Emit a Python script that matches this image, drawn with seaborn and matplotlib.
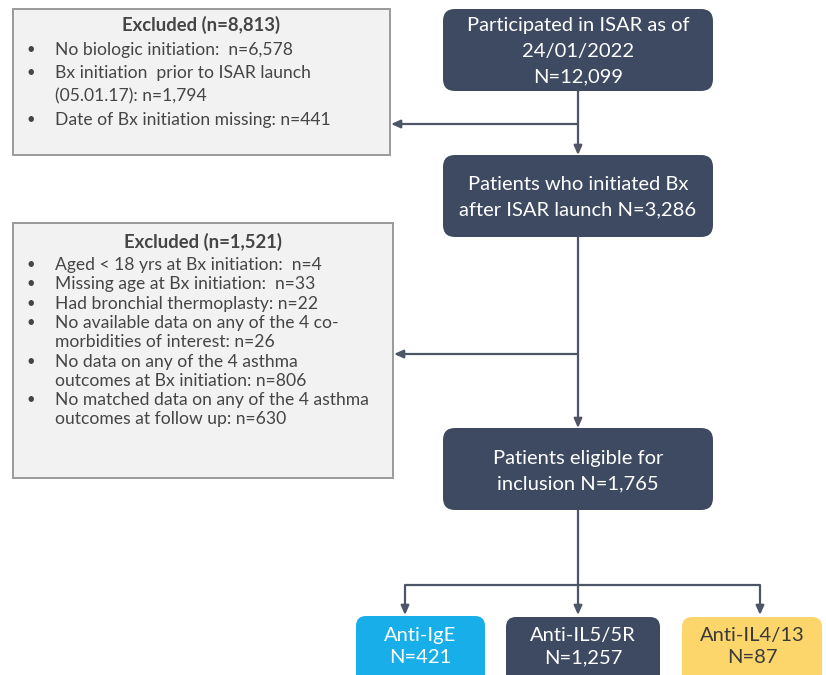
"""ISAR patient selection flowchart (biologic initiation cohort)."""

import matplotlib

matplotlib.use("Agg")
import matplotlib.pyplot as plt
import seaborn as sns
from matplotlib.patches import FancyBboxPatch, Rectangle

# ---- content -------------------------------------------------------------
MAIN_STEPS = [
    "Participated in ISAR as of\n24/01/2022\nN=12,099",
    "Patients who initiated Bx\nafter ISAR launch N=3,286",
    "Patients eligible for\ninclusion N=1,765",
]
EXCLUDED_TITLES = ["Excluded (n=8,813)", "Excluded (n=1,521)"]
EXCLUDED_ITEMS_1 = [
    "No biologic initiation:  n=6,578",
    "Bx initiation  prior to ISAR launch\n(05.01.17): n=1,794",
    "Date of Bx initiation missing: n=441",
]
EXCLUDED_ITEMS_2 = [
    "Aged < 18 yrs at Bx initiation:  n=4",
    "Missing age at Bx initiation:  n=33",
    "Had bronchial thermoplasty: n=22",
    "No available data on any of the 4 co-\nmorbidities of interest: n=26",
    "No data on any of the 4 asthma\noutcomes at Bx initiation: n=806",
    "No matched data on any of the 4 asthma\noutcomes at follow up: n=630",
]
GROUP_NAMES = ["Anti-IgE", "Anti-IL5/5R", "Anti-IL4/13"]
GROUP_COUNTS = ["421", "1,257", "87"]

NAVY = "#3e4a61"
GROUP_COLORS = ["#17aeea", NAVY, "#fcd56b"]
GROUP_TEXT = ["white", "white", "#3a3a3a"]
GREY_FILL = "#f2f2f2"
GREY_EDGE = "#9a9a9a"
LINE = "#4d5566"
TEXT = "#454545"

sns.set_theme(style="white")
plt.rcParams["font.family"] = ["Lato", "DejaVu Sans"]

fig = plt.figure(figsize=(8.26, 6.75), dpi=100)
ax = fig.add_axes([0, 0, 1, 1])
ax.set_xlim(0, 826)
ax.set_ylim(675, 0)
ax.axis("off")


def rounded_box(x0, y0, x1, y1, color, radius=12):
    ax.add_patch(
        FancyBboxPatch(
            (x0 + radius, y0 + radius),
            x1 - x0 - 2 * radius,
            y1 - y0 - 2 * radius,
            boxstyle=f"round,pad={radius}",
            facecolor=color,
            edgecolor="none",
            zorder=2,
        )
    )


def excluded_box(x0, y0, x1, y1, title, items, title_y, first_y, step, size):
    ax.add_patch(
        Rectangle((x0, y0), x1 - x0, y1 - y0, facecolor=GREY_FILL,
                  edgecolor=GREY_EDGE, linewidth=1.4, zorder=2)
    )
    ax.text((x0 + x1) / 2, title_y, title, ha="center", va="center",
            fontsize=size + 0.7, fontweight="bold", color=TEXT, zorder=3)
    y = first_y
    for item in items:
        ax.text(x0 + 18, y, "•", ha="center", va="center", fontsize=size - 2,
                color=TEXT, zorder=3)
        for line in item.split("\n"):
            ax.text(x0 + 42, y, line, ha="left", va="center", fontsize=size,
                    color=TEXT, zorder=3)
            y += step


def arrow(x0, y0, x1, y1):
    ax.annotate("", xy=(x1, y1), xytext=(x0, y0),
                arrowprops=dict(arrowstyle="-|>,head_length=0.45,head_width=0.2",
                                color=LINE, lw=1.6, shrinkA=0, shrinkB=0),
                zorder=1)


def line(xs, ys):
    ax.plot(xs, ys, color=LINE, lw=1.6, solid_capstyle="butt", zorder=1)


# ---- main column ---------------------------------------------------------
CX = 578
main_boxes = [(443, 9, 713, 91), (443, 155, 713, 237), (443, 428, 713, 510)]
main_text_y = [51, 197, 471]
for (x0, y0, x1, y1), label, ty in zip(main_boxes, MAIN_STEPS, main_text_y):
    rounded_box(x0, y0, x1, y1, NAVY)
    ax.text((x0 + x1) / 2, ty, label, ha="center", va="center", fontsize=14.5,
            color="white", linespacing=1.6, zorder=3)

arrow(CX, 91, CX, 155)
arrow(CX, 237, CX, 428)
arrow(CX, 124, 391, 124)
arrow(CX, 354, 394, 354)

# ---- exclusion boxes -----------------------------------------------------
excluded_box(13, 9, 390, 155, EXCLUDED_TITLES[0], EXCLUDED_ITEMS_1,
             title_y=25, first_y=50, step=23.3, size=12.6)
excluded_box(13, 223, 393, 478, EXCLUDED_TITLES[1], EXCLUDED_ITEMS_2,
             title_y=242, first_y=265, step=19.3, size=12.6)

# ---- split into biologic classes ------------------------------------------
line([CX, CX], [510, 585])
branch_x = [405, 578, 760]
line([branch_x[0], branch_x[-1]], [585, 585])
for bx in branch_x:
    arrow(bx, 585, bx, 615)

group_boxes = [(356, 616, 485, 690), (506, 617, 660, 690), (682, 617, 822, 690)]
for (x0, y0, x1, y1), name, count, col, tcol in zip(
    group_boxes, GROUP_NAMES, GROUP_COUNTS, GROUP_COLORS, GROUP_TEXT
):
    rounded_box(x0, y0, x1, y1, col, radius=10)
    ax.text((x0 + x1) / 2, 646.5, f"{name}\nN={count}", ha="center", va="center",
            fontsize=14.5, color=tcol, linespacing=1.35, zorder=3)

fig.savefig("out.png", dpi=100)
